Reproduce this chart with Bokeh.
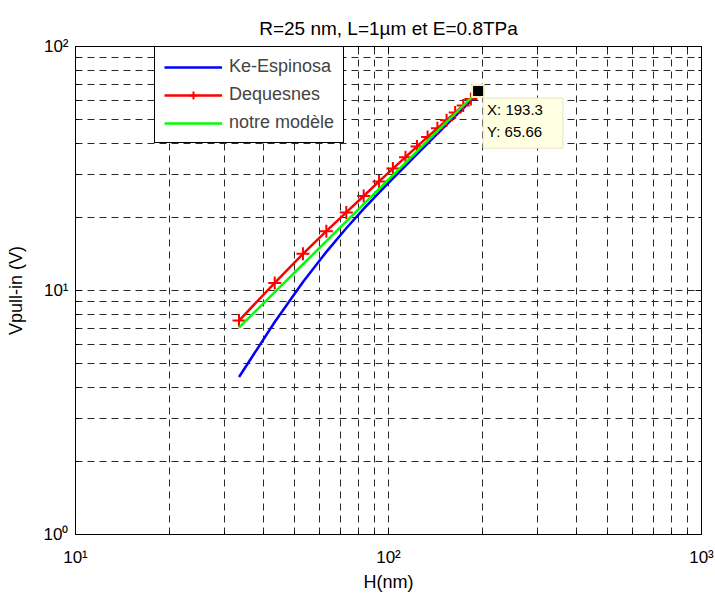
from bokeh.plotting import figure
from bokeh.models import FixedTicker, LogAxis, Legend, LegendItem, Label, Range1d
from bokeh.embed import file_html
from bokeh.resources import INLINE

# ---- data ----
H = [33.3, 43.3, 53.3, 63.3, 73.3, 83.3, 93.3, 103.3, 113.3, 123.3,
     133.3, 143.3, 153.3, 163.3, 173.3, 183.3, 193.3]
V_ke = [4.42, 7.43, 10.84, 14.4, 18.0, 21.6, 25.2, 28.8, 32.4, 36.2,
        40.0, 43.9, 47.8, 51.8, 55.8, 60.0, 64.1]
V_deq = [7.53, 10.74, 14.13, 17.5, 20.9, 24.4, 28.0, 31.6, 35.2, 38.9,
         42.6, 46.2, 49.9, 53.6, 57.3, 61.0, 65.66]
V_notre = [7.05, 9.84, 12.81, 15.93, 19.20, 22.58, 26.09, 29.69, 33.38, 37.17,
           41.02, 45.00, 48.98, 53.10, 57.28, 61.49, 65.66]
tip_H = 193.3
tip_V = 65.66
series_names = ["Ke-Espinosa", "Dequesnes", "notre modèle"]

x_major = [10, 100, 1000]
x_minor = [20, 30, 40, 50, 60, 70, 80, 90, 200, 300, 400, 500, 600, 700, 800, 900]
y_major = [1, 10, 100]
y_minor = [2, 3, 4, 5, 6, 7, 8, 9, 20, 30, 40, 50, 60, 70, 80, 90]
x_labels = {10: "10¹", 100: "10²", 1000: "10³"}
y_labels = {1: "10⁰", 10: "10¹", 100: "10²"}

title_text = "R=25 nm, L=1µm et E=0.8TPa"
x_title = "H(nm)"
y_title = "Vpull-in (V)"

FONT = "Liberation Sans"

p = figure(width=715, height=594, x_axis_type="log", y_axis_type="log",
           x_range=Range1d(10, 1000), y_range=Range1d(1, 100),
           output_backend="svg", toolbar_location=None,
           min_border_left=75, min_border_right=14, min_border_top=46,
           min_border_bottom=56)
p.background_fill_color = "white"
p.border_fill_color = "white"
p.outline_line_color = "black"
p.outline_line_alpha = 1
p.outline_line_width = 1

xt = FixedTicker(ticks=x_major, minor_ticks=x_minor)
yt = FixedTicker(ticks=y_major, minor_ticks=y_minor)

def style_axis(ax, ticker, labels=None, show=True):
    ax.ticker = ticker
    ax.axis_line_color = "black"
    ax.major_tick_line_color = "black"
    ax.minor_tick_line_color = "black"
    ax.major_tick_in = 6
    ax.major_tick_out = 0
    ax.minor_tick_in = 3
    ax.minor_tick_out = 0
    if show:
        ax.major_label_overrides = labels
        ax.major_label_text_font = FONT
        ax.major_label_text_font_size = "17px"
        ax.major_label_text_color = "black"
        ax.axis_label_text_font = FONT
        ax.axis_label_text_font_size = "18px"
        ax.axis_label_text_font_style = "normal"
        ax.axis_label_text_color = "black"
    else:
        ax.major_label_text_font_size = "2px"
        ax.major_label_text_alpha = 0
        ax.major_label_standoff = 0

style_axis(p.xaxis[0], xt, x_labels)
style_axis(p.yaxis[0], yt, y_labels)
p.xaxis[0].axis_label = x_title
p.yaxis[0].axis_label = y_title
p.xaxis[0].major_label_standoff = 13
p.xaxis[0].axis_label_standoff = 2
p.yaxis[0].major_label_standoff = 7
p.yaxis[0].axis_label_standoff = 15

top_ax = LogAxis()
style_axis(top_ax, xt, show=False)
right_ax = LogAxis()
style_axis(right_ax, yt, show=False)
p.add_layout(top_ax, "above")
p.add_layout(right_ax, "right")

for g, t in ((p.xgrid, xt), (p.ygrid, yt)):
    g.ticker = t
    g.grid_line_color = "#2a2a2a"
    g.grid_line_dash = "7 5"
    g.grid_line_width = 1
    g.minor_grid_line_color = "#2a2a2a"
    g.minor_grid_line_dash = "7 5"
    g.minor_grid_line_width = 1

p.title.text = title_text
p.title.align = "center"
p.title.text_font = FONT
p.title.text_font_size = "19px"
p.title.text_font_style = "normal"
p.title.text_color = "black"
p.title.standoff = 16

r_ke = p.line(H, V_ke, line_color="#0000FF", line_width=2.5)
r_deq = p.line(H, V_deq, line_color="#FF0000", line_width=2.5)
r_deq_m = p.scatter(H, V_deq, marker="cross", size=13, line_color="#FF0000", line_width=2)
r_notre = p.line(H, V_notre, line_color="#00FF00", line_width=2.5)

# data tip
p.scatter([tip_H], [tip_V], marker="square", size=12, fill_color="black",
          line_color="#F6F1C4", line_width=2)
tip = Label(x=tip_H, y=tip_V, x_offset=5, y_offset=-7,
            text="X: %s\nY: %s" % (tip_H, tip_V),
            text_font=FONT, text_font_size="15px", text_color="black",
            text_align="left", text_baseline="top", text_line_height=1.3,
            background_fill_color="#FFFFE1", background_fill_alpha=1,
            border_line_color="#E8E4C4", border_line_width=1)
try:
    tip.padding = (4, 20, 3, 8)
except Exception:
    tip.padding = 5
p.add_layout(tip)

legend = Legend(items=[LegendItem(label=series_names[0], renderers=[r_ke]),
                       LegendItem(label=series_names[1], renderers=[r_deq, r_deq_m]),
                       LegendItem(label=series_names[2], renderers=[r_notre])],
                location=(79, 391))
legend.border_line_color = "black"
legend.border_line_width = 1
legend.border_line_alpha = 1
legend.background_fill_color = "white"
legend.background_fill_alpha = 1
legend.label_text_font = FONT
legend.label_text_font_size = "18px"
legend.glyph_width = 58
legend.glyph_height = 20
legend.label_height = 20
legend.label_standoff = 7
legend.spacing = 7
legend.padding = 9
legend.margin = 0
p.add_layout(legend)

open("out.html", "w").write(file_html(p, INLINE))
